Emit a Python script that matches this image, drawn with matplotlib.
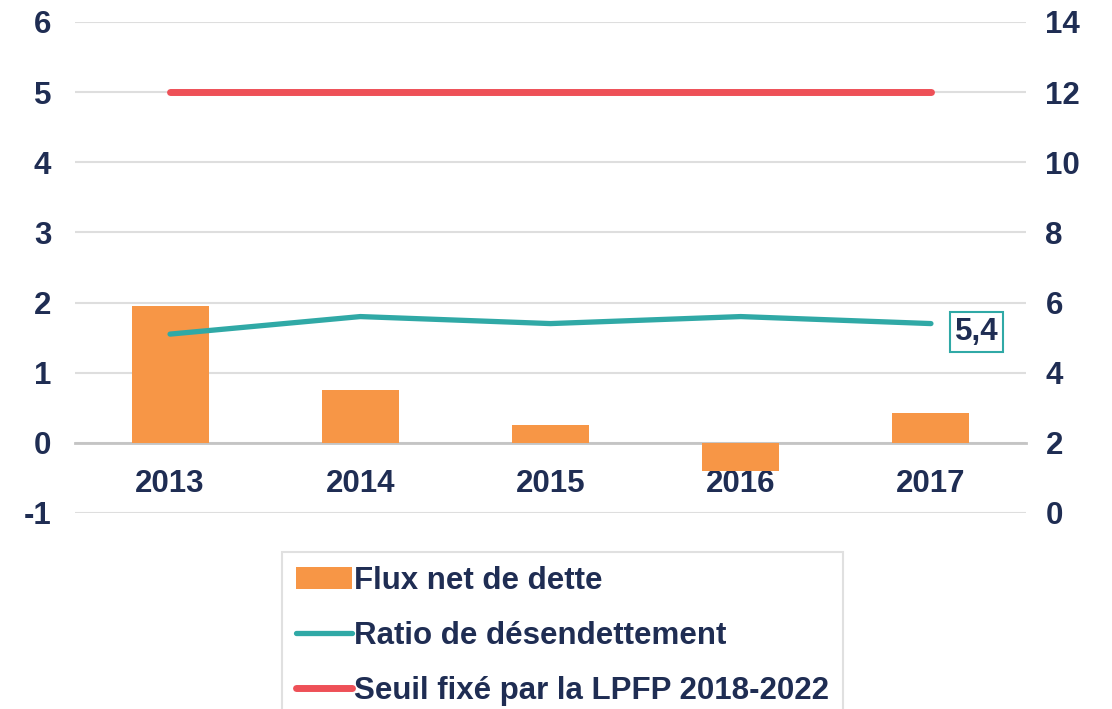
import matplotlib.pyplot as plt

plt.rcParams['font.family'] = ['Liberation Sans', 'DejaVu Sans']
plt.rcParams['font.weight'] = 'bold'
plt.rcParams['axes.unicode_minus'] = False

years = ['2013', '2014', '2015', '2016', '2017']
flux_net = [1.95, 0.75, 0.26, -0.40, 0.43]          # left axis
ratio = [5.1, 5.6, 5.4, 5.6, 5.4]                   # right axis
seuil = [12, 12, 12, 12, 12]                        # right axis
last_label = '5,4'

navy = '#1f2d53'
orange = '#f79646'
teal = '#30a9a6'
red = '#ee5057'
fs = 22.5

fig = plt.figure(figsize=(11.12, 7.09), dpi=100)
ax = fig.add_axes([0.0674, 0.2765, 0.8553, 0.6925])
ax2 = ax.twinx()

x = list(range(len(years)))
bars = ax.bar(x, flux_net, width=0.405, color=orange, zorder=2, label='Flux net de dette')
ax.set_xlim(-0.5, 4.5)
ax.set_ylim(-1, 6)
ax.set_yticks(range(-1, 7))
ax.grid(axis='y', color='#dedede', linewidth=1.5, zorder=0)
ax.set_axisbelow(True)
for s in ['top', 'right', 'left']:
    ax.spines[s].set_visible(False)
ax.spines['bottom'].set_position(('data', 0))
ax.spines['bottom'].set_color('#c4c4c4')
ax.spines['bottom'].set_linewidth(2)
ax.spines['bottom'].set_zorder(1)
ax.set_xticks(x)
ax.set_xticklabels(years)
ax.tick_params(axis='x', length=0, pad=19, labelsize=fs, labelcolor=navy)
ax.tick_params(axis='y', length=0, pad=17, labelsize=fs, labelcolor=navy)

l1, = ax2.plot(x, ratio, color=teal, linewidth=3.8, solid_capstyle='round', label='Ratio de désendettement')
l2, = ax2.plot(x, seuil, color=red, linewidth=5, solid_capstyle='round', label='Seuil fixé par la LPFP 2018-2022')
ax2.set_ylim(0, 14)
ax2.set_yticks(range(0, 15, 2))
for s in ax2.spines.values():
    s.set_visible(False)
ax2.tick_params(axis='y', length=0, pad=14, labelsize=fs, labelcolor=navy)
ax.set_zorder(ax2.get_zorder() - 1)
ax2.patch.set_visible(False)
ax.patch.set_visible(False)

ax2.annotate(last_label, xy=(x[-1], ratio[-1]), xytext=(33, -6), textcoords='offset points',
             ha='center', va='center', fontsize=fs, color=navy, fontweight='bold',
             bbox=dict(boxstyle='square,pad=0.15', facecolor='white', edgecolor=teal, linewidth=1.5))

leg = fig.legend(handles=[bars, l1, l2], loc='upper left', bbox_to_anchor=(282 / 1112, 1 - 552 / 709),
                 fontsize=fs, frameon=True, fancybox=False, handlelength=1.8, handletextpad=0.05,
                 labelspacing=0.8, borderpad=0.45, borderaxespad=0)
leg.get_frame().set_edgecolor('#d9d9d9')
leg.get_frame().set_linewidth(1.5)
for t in leg.get_texts():
    t.set_color(navy)

fig.savefig('out.png', dpi=100)
